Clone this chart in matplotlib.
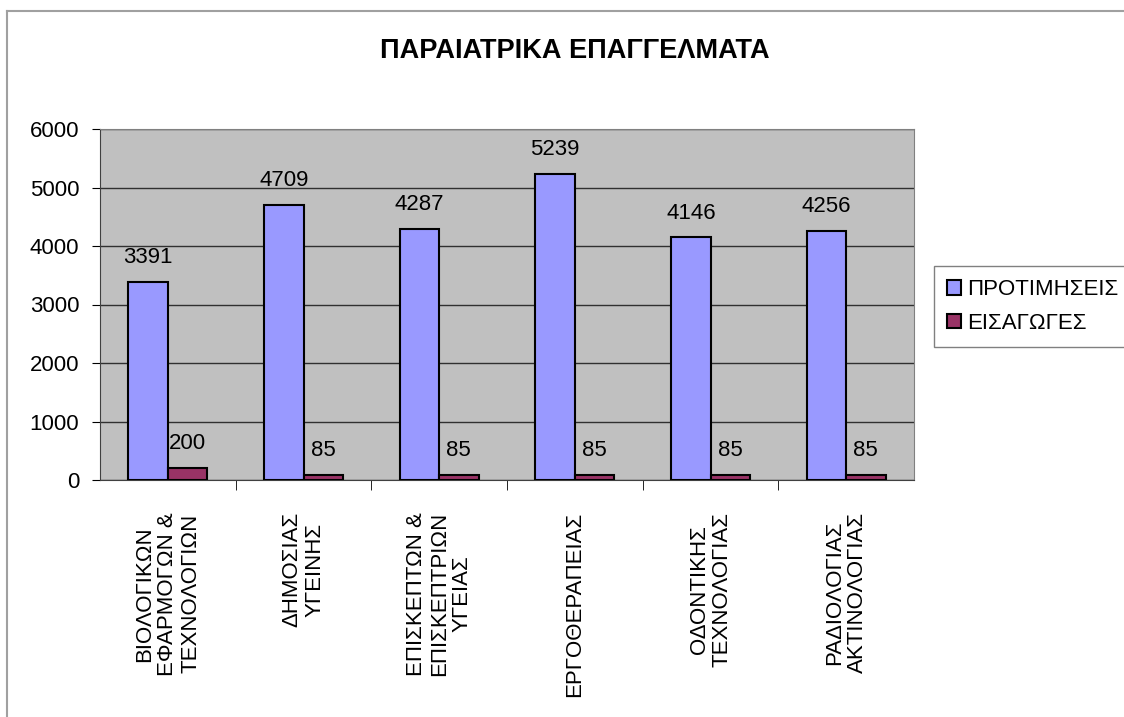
import matplotlib.pyplot as plt
import numpy as np
from matplotlib.lines import Line2D

plt.rcParams['font.family'] = ['Liberation Sans', 'DejaVu Sans']

categories = ['ΒΙΟΛΟΓΙΚΩΝ\nΕΦΑΡΜΟΓΩΝ &\nΤΕΧΝΟΛΟΓΙΩΝ',
              'ΔΗΜΟΣΙΑΣ\nΥΓΕΙΝΗΣ',
              'ΕΠΙΣΚΕΠΤΩΝ &\nΕΠΙΣΚΕΠΤΡΙΩΝ\nΥΓΕΙΑΣ',
              'ΕΡΓΟΘΕΡΑΠΕΙΑΣ',
              'ΟΔΟΝΤΙΚΗΣ\nΤΕΧΝΟΛΟΓΙΑΣ',
              'ΡΑΔΙΟΛΟΓΙΑΣ\nΑΚΤΙΝΟΛΟΓΙΑΣ']
protimiseis = [3391, 4709, 4287, 5239, 4146, 4256]
eisagoges = [200, 85, 85, 85, 85, 85]
series_names = ['ΠΡΟΤΙΜΗΣΕΙΣ', 'ΕΙΣΑΓΩΓΕΣ']
title = 'ΠΑΡΑΙΑΤΡΙΚΑ ΕΠΑΓΓΕΛΜΑΤΑ'


def bar_plot():
    fig = plt.figure(figsize=(11.24, 7.17), dpi=100)
    ax = fig.add_axes([100 / 1124, 1 - 480 / 717, 814 / 1124, 351 / 717])
    ax.set_facecolor('#c0c0c0')

    index = np.arange(len(categories))
    bar_width = 0.29

    rects1 = ax.bar(index - 0.145, protimiseis, bar_width, color='#9999ff',
                    edgecolor='black', linewidth=1.5, label=series_names[0], zorder=3)
    rects2 = ax.bar(index + 0.145, eisagoges, bar_width, color='#993366',
                    edgecolor='black', linewidth=1.5, label=series_names[1], zorder=3)

    # value labels above bars
    for rects in (rects1, rects2):
        for r in rects:
            ax.annotate(str(int(r.get_height())),
                        (r.get_x() + r.get_width() / 2, r.get_height()),
                        xytext=(0, 10), textcoords='offset points',
                        ha='center', va='bottom', fontsize=16)

    ax.set_xlim(-0.5, len(categories) - 0.5)
    ax.set_ylim(0, 6000)
    ax.set_yticks(np.arange(0, 6001, 1000))
    ax.yaxis.grid(True, color='#303030', linewidth=1, zorder=0)
    ax.tick_params(axis='y', labelsize=16, length=6, direction='out', pad=9)

    ax.set_xticks(index)
    ax.set_xticklabels(categories, rotation=90, fontsize=16,
                       linespacing=1.12, ha='center', va='top')
    ax.tick_params(axis='x', which='major', length=0, pad=23)
    ax.set_xticks(index[:-1] + 0.5, minor=True)
    ax.tick_params(axis='x', which='minor', length=7, direction='out')

    for side in ('top', 'right'):
        ax.spines[side].set_color('#808080')
    ax.spines['left'].set_color('#404040')
    ax.spines['bottom'].set_color('#404040')

    fig.text(575 / 1124, 1 - 51 / 717, title, ha='center', va='center',
             fontsize=19.5, fontweight='bold')

    fig.legend(loc='upper left', bbox_to_anchor=(934 / 1124, 1 - 266 / 717),
               fontsize=16, frameon=True, fancybox=False, edgecolor='#808080',
               framealpha=1, handlelength=0.6, handleheight=0.6,
               handletextpad=0.3, borderpad=0.6, labelspacing=0.55,
               borderaxespad=0)

    # chart area frame (left and top edges visible)
    fig.add_artist(Line2D([7 / 1124, 7 / 1124], [0, 1 - 11 / 717],
                          color='#a0a0a0', linewidth=1.5))
    fig.add_artist(Line2D([7 / 1124, 1], [1 - 11 / 717, 1 - 11 / 717],
                          color='#a0a0a0', linewidth=1.5))

    plt.savefig('out.png', dpi=100)


def main():
    bar_plot()


if __name__ == "__main__":
    main()
